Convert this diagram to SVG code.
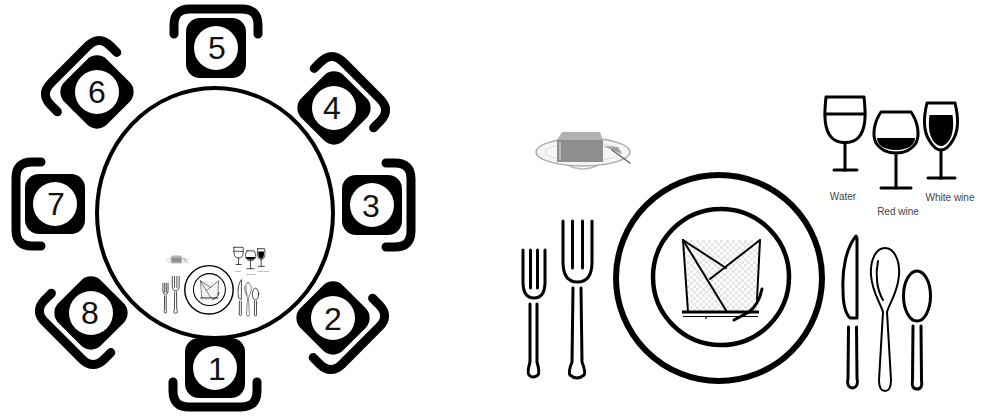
<svg xmlns="http://www.w3.org/2000/svg" xmlns:xlink="http://www.w3.org/1999/xlink" width="982" height="416" viewBox="0 0 982 416">
  <style>
    .seat { fill: #000; }
    .back { fill: none; stroke: #000; stroke-width: 9; stroke-linecap: round; stroke-linejoin: round; }
    .dot { fill: #fff; }
    .num { font-family: "Liberation Sans", Arial, sans-serif; font-size: 32px; fill: #111; text-anchor: middle; }
    .ln { fill: none; stroke: #000; stroke-width: 3; stroke-linecap: round; stroke-linejoin: round; }
    .thin { fill: none; stroke: #000; stroke-width: 2; stroke-linecap: round; stroke-linejoin: round; }
    .lbl { font-family: "Liberation Sans", Arial, sans-serif; font-size: 10px; fill: #444; text-anchor: middle; }
  </style>
  <defs>
    <!-- chair drawn with its back pointing up (away from the table) -->
    <g id="chair">
      <path class="back" d="M -42,-14 L -42,-23 Q -42,-39 -26,-39 L 26,-39 Q 42,-39 42,-23 L 42,-14"/>
      <rect class="seat" x="-30" y="-30" width="60" height="60" rx="14"/>
      <circle class="dot" cx="0" cy="0" r="22"/>
    </g>
    <pattern id="weave" width="6" height="6" patternUnits="userSpaceOnUse">
      <rect width="6" height="6" fill="#fff"/>
      <rect width="3" height="3" fill="#e6e6e6"/>
      <rect x="3" y="3" width="3" height="3" fill="#e6e6e6"/>
    </pattern>
    <!-- full place setting -->
    <g id="place-setting">
      <!-- bread plate with butter -->
      <g id="bread-plate">
        <path d="M 566,164 Q 583,174 600,164" fill="none" stroke="#bbb" stroke-width="1.5"/>
        <ellipse cx="583" cy="152" rx="47" ry="14" fill="#f5f5f5" stroke="#aaa" stroke-width="1.5"/>
        <ellipse cx="583" cy="152" rx="38" ry="9" fill="none" stroke="#ddd" stroke-width="1"/>
        <polygon points="557,140 603,140 603,162 557,162" fill="#8e8e8e"/>
        <polygon points="562,132 600,132 603,140 557,140" fill="#b2b2b2"/>
        <line x1="560" y1="142" x2="560" y2="160" stroke="#c8c8c8" stroke-width="1.5"/>
        <path d="M 603,146 L 618,147 L 622,154 Z" fill="#a0a0a0"/>
        <line x1="612" y1="150" x2="630" y2="163" stroke="#666" stroke-width="1.5" stroke-linecap="round"/>
      </g>
      <!-- glasses -->
      <g id="water-glass">
        <path class="ln" d="M 826,97 L 864,97 C 866,115 866,130 858,138 C 852,144 838,144 832,138 C 824,130 824,115 826,97 Z"/>
        <line class="ln" x1="825" y1="114" x2="865" y2="114"/>
        <line class="ln" x1="845" y1="143" x2="845" y2="170"/>
        <line class="ln" x1="834" y1="170" x2="857" y2="170"/>
        <text class="lbl" x="843" y="200">Water</text>
      </g>
      <g id="red-wine-glass">
        <path class="ln" d="M 881,112 L 911,112 C 918,122 920,135 916,143 C 911,151 904,153 896,153 C 888,153 881,151 876,143 C 872,135 874,122 881,112 Z"/>
        <path d="M 877,138 L 915,138 C 915,145 908,150 896,150 C 884,150 877,145 877,138 Z" fill="#000"/>
        <line class="ln" x1="896" y1="153" x2="896" y2="188"/>
        <line class="ln" x1="881" y1="188" x2="911" y2="188"/>
        <text class="lbl" x="898" y="215">Red wine</text>
      </g>
      <g id="white-wine-glass">
        <path class="ln" d="M 927,103 L 955,103 C 958,115 959,130 953,140 C 949,147 945,150 941,150 C 937,150 933,147 929,140 C 923,130 924,115 927,103 Z"/>
        <path d="M 929.5,115 L 952.5,115 C 954,125 953,134 949.5,140 C 946.5,144 944,146 941,146 C 938,146 935.5,144 932.5,140 C 929,134 928,125 929.5,115 Z" fill="#000"/>
        <line class="ln" x1="941" y1="150" x2="941" y2="178"/>
        <line class="ln" x1="928" y1="178" x2="955" y2="178"/>
        <text class="lbl" x="950" y="201">White wine</text>
      </g>
      <!-- forks -->
      <g id="salad-fork">
        <path class="ln" d="M 523,250 L 523,282 Q 523,298 534,298 Q 545,298 545,282 L 545,250"/>
        <line class="ln" x1="530.5" y1="250" x2="530.5" y2="288"/>
        <line class="ln" x1="537.5" y1="250" x2="537.5" y2="288"/>
        <path class="ln" d="M 530,304 L 530,362 Q 527,372 529,375 Q 533,379 538,375 Q 540,372 537,362 L 537,304"/>
      </g>
      <g id="dinner-fork">
        <path class="ln" d="M 563,221 L 563,262 Q 563,282 577.5,282 Q 592,282 592,262 L 592,221"/>
        <line class="ln" x1="572.5" y1="221" x2="572.5" y2="268"/>
        <line class="ln" x1="582.5" y1="221" x2="582.5" y2="268"/>
        <path class="ln" d="M 573,288 L 572,362 Q 568,372 570,375 Q 577,381 584,375 Q 586,372 582,362 L 581,288"/>
      </g>
      <!-- dinner plate with folded napkin -->
      <g id="dinner-plate">
        <circle cx="719" cy="278" r="103" fill="#fff" stroke="#000" stroke-width="6"/>
        <circle cx="721" cy="277" r="68" fill="#fff" stroke="#000" stroke-width="4.5"/>
        <polygon points="683,240 760,240 757,312 688,312" fill="url(#weave)"/>
        <g class="thin" stroke-width="2.5">
          <line x1="683" y1="240" x2="688" y2="312"/>
          <line x1="760" y1="240" x2="757" y2="300"/>
          <line x1="683" y1="240" x2="726" y2="268"/>
          <line x1="760" y1="240" x2="710" y2="279"/>
          <line x1="683" y1="240" x2="727" y2="312"/>
        </g>
        <line x1="682" y1="312" x2="759" y2="312" stroke="#000" stroke-width="3"/>
        <line x1="683" y1="316.5" x2="758" y2="316.5" stroke="#000" stroke-width="1.2"/>
        <line x1="706" y1="316" x2="706" y2="319" stroke="#000" stroke-width="1.2"/>
        <path d="M 762,289 Q 759,304 749,312 L 734,320" fill="none" stroke="#000" stroke-width="3" stroke-linecap="round"/>
      </g>
      <!-- knife and spoons -->
      <g id="knife">
        <path class="ln" d="M 856,236 C 846,248 842,270 843,290 C 843,305 846,314 850,318 L 857,318 L 857,238 Z"/>
        <path class="ln" d="M 848.5,327 L 848,378 Q 846,387 852.5,388 Q 859,387 857,378 L 856.5,327"/>
      </g>
      <g id="dinner-spoon">
        <path class="thin" d="M 885,248 C 876,248 870,260 871,275 C 872,292 880,302 883,312 L 879,380 Q 879,391 885,391 Q 891,391 891,380 L 887,312 C 890,302 898,292 899,275 C 900,260 894,248 885,248 Z"/>
        <path class="thin" stroke-width="1.5" d="M 878,261 C 875,275 877,290 883,300"/>
      </g>
      <g id="teaspoon">
        <ellipse class="ln" cx="917" cy="296" rx="13.5" ry="25"/>
        <path class="ln" d="M 913,326 L 912.5,380 Q 911,389 917,389 Q 923,389 921.5,380 L 921,326"/>
      </g>
    </g>
  </defs>

  <rect width="982" height="416" fill="#fff"/>

  <!-- round table -->
  <g id="table">
    <ellipse cx="215" cy="213" rx="118" ry="125" fill="#fff" stroke="#000" stroke-width="4"/>
  </g>

  <!-- chairs around the table -->
  <g id="chair-1">
    <use xlink:href="#chair" transform="translate(215,368) rotate(180)"/>
    <text class="num" x="217" y="380">1</text>
  </g>
  <g id="chair-2">
    <use xlink:href="#chair" transform="translate(333,318) rotate(135)"/>
    <text class="num" x="333" y="330">2</text>
  </g>
  <g id="chair-3">
    <use xlink:href="#chair" transform="translate(372,205) rotate(90)"/>
    <text class="num" x="371" y="217">3</text>
  </g>
  <g id="chair-4">
    <use xlink:href="#chair" transform="translate(334,108) rotate(45)"/>
    <text class="num" x="332" y="119">4</text>
  </g>
  <g id="chair-5">
    <use xlink:href="#chair" transform="translate(216,48)"/>
    <text class="num" x="217" y="59">5</text>
  </g>
  <g id="chair-6">
    <use xlink:href="#chair" transform="translate(97,92) rotate(-45)"/>
    <text class="num" x="97" y="103">6</text>
  </g>
  <g id="chair-7">
    <use xlink:href="#chair" transform="translate(55,204) rotate(-90)"/>
    <text class="num" x="56" y="215">7</text>
  </g>
  <g id="chair-8">
    <use xlink:href="#chair" transform="translate(91,313) rotate(-135)"/>
    <text class="num" x="90" y="324">8</text>
  </g>

  <!-- setting shown on the table, and enlarged on the right -->
  <g id="setting-small">
    <use xlink:href="#place-setting" transform="translate(40,224.5) scale(0.235)"/>
  </g>
  <g id="setting-large">
    <use xlink:href="#place-setting"/>
  </g>
</svg>
